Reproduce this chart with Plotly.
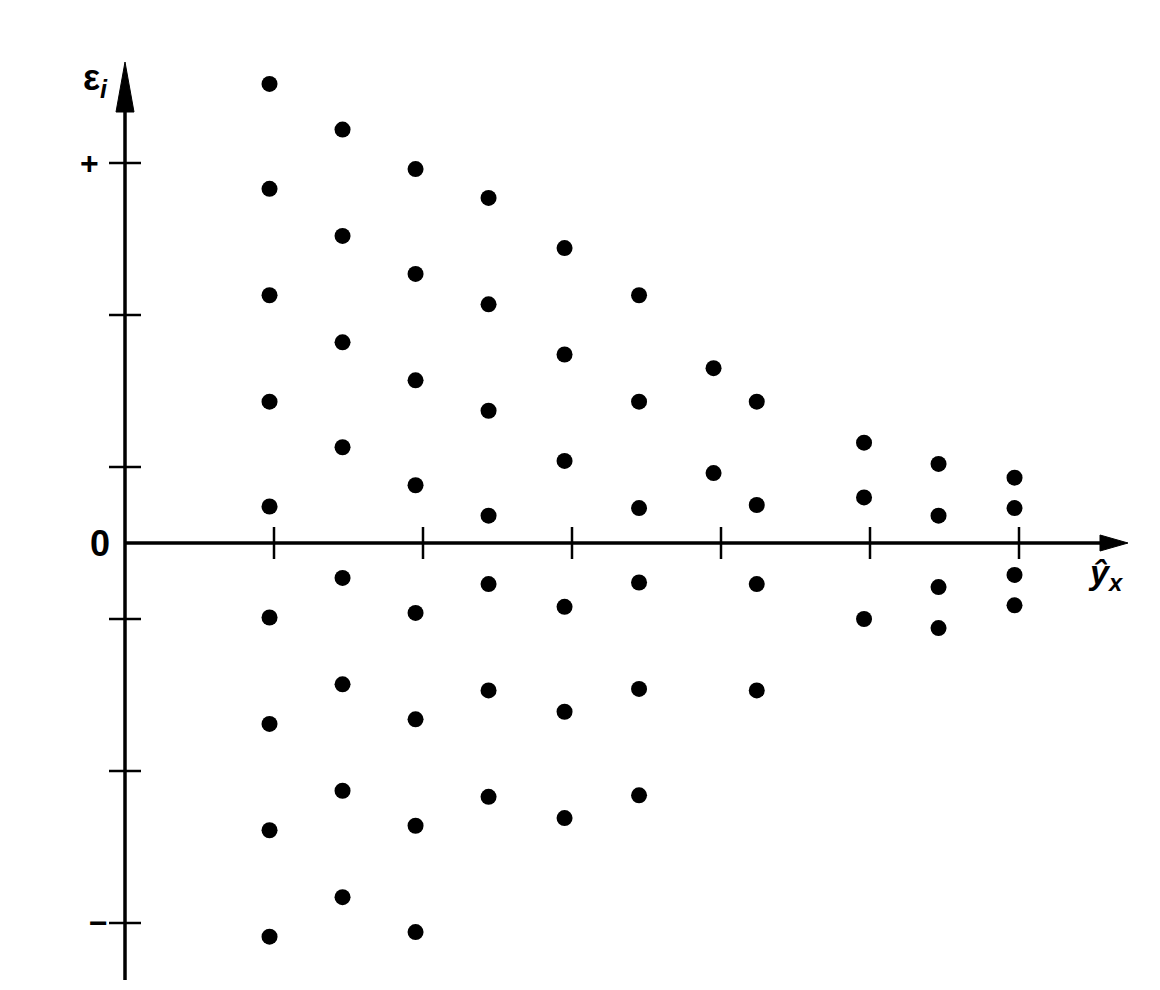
import plotly.graph_objects as go

# Residual data (x in units of x-axis ticks, y in units where axis ticks sit at +-0.5, 1.5, 2.5)
col_x = [0.97, 1.46, 1.95, 2.44, 2.95, 3.45, 3.95, 4.24, 4.96, 5.46, 5.97]
col_y = [
    [3.02, 2.33, 1.63, 0.93, 0.24, -0.49, -1.19, -1.89, -2.59],
    [2.72, 2.02, 1.32, 0.63, -0.23, -0.93, -1.63, -2.33],
    [2.46, 1.77, 1.07, 0.38, -0.46, -1.16, -1.86, -2.56],
    [2.27, 1.57, 0.87, 0.18, -0.27, -0.97, -1.67],
    [1.94, 1.24, 0.54, -0.42, -1.11, -1.81],
    [1.63, 0.93, 0.23, -0.26, -0.96, -1.66],
    [1.15, 0.46],
    [0.93, 0.25, -0.27, -0.97],
    [0.66, 0.30, -0.50],
    [0.52, 0.18, -0.29, -0.56],
    [0.43, 0.23, -0.21, -0.41],
]
x_ticks = [1, 2, 3, 4, 5, 6]
y_ticks = [2.5, 1.5, 0.5, -0.5, -1.5, -2.5]
y_tick_labels = {2.5: "+", 0: "0", -2.5: "\u2212"}
x_label = "<i>\u0177</i><sub><i>x</i></sub>"
y_label = "\u03b5<sub><i>i</i></sub>"

OFF = 8  # default page body margin
W, H = 1150, 980
PX_X, PX_Y = 149.0, 152.0  # pixels per unit
X0_PX, Y0_PX = 125.0 - OFF, 543.0 - OFF

xr = [-X0_PX / PX_X, (W - X0_PX) / PX_X]
yr = [-(H - Y0_PX) / PX_Y, Y0_PX / PX_Y]


def px_x(p):
    return (p - OFF - X0_PX) / PX_X


def px_y(p):
    return (Y0_PX - (p - OFF)) / PX_Y


xs, ys = [], []
for cx, yl in zip(col_x, col_y):
    for v in yl:
        xs.append(cx)
        ys.append(v)

fig = go.Figure()
fig.add_trace(go.Scatter(x=xs, y=ys, mode="markers",
                         marker=dict(size=16, color="black"), hoverinfo="skip",
                         showlegend=False))

shapes = []
lw = 3.5
y_bottom = px_y(980)
y_arrow_base = px_y(112)
y_arrow_tip = px_y(62)
x_arrow_base = px_x(1100)
x_arrow_tip = px_x(1128)
shapes.append(dict(type="line", x0=0, x1=0, y0=y_bottom, y1=y_arrow_base,
                   line=dict(color="black", width=lw)))
shapes.append(dict(type="line", x0=0, x1=x_arrow_base, y0=0, y1=0,
                   line=dict(color="black", width=lw)))
hw = 9 / PX_X
shapes.append(dict(type="path",
                   path=f"M {-hw} {y_arrow_base} L 0 {y_arrow_tip} L {hw} {y_arrow_base} Z",
                   fillcolor="black", line=dict(color="black", width=1)))
hh = 8 / PX_Y
shapes.append(dict(type="path",
                   path=f"M {x_arrow_base} {-hh} L {x_arrow_tip} 0 L {x_arrow_base} {hh} Z",
                   fillcolor="black", line=dict(color="black", width=1)))
tx = 16 / PX_X
ty = 16 / PX_Y
for t in y_ticks:
    shapes.append(dict(type="line", x0=-tx, x1=tx, y0=t, y1=t,
                       line=dict(color="black", width=2.5)))
for t in x_ticks:
    shapes.append(dict(type="line", x0=t, x1=t, y0=-ty, y1=ty,
                       line=dict(color="black", width=2.5)))

annotations = []
fnt = "Liberation Sans, Arial, sans-serif"
label_x = {"+": 89, "0": 100, "\u2212": 98}
for v, txt in y_tick_labels.items():
    size = 36 if txt == "0" else 32
    annotations.append(dict(x=px_x(label_x[txt]), y=v, text=f"<b>{txt}</b>", showarrow=False,
                            xanchor="center", yanchor="middle",
                            font=dict(family=fnt, size=size, color="black")))
annotations.append(dict(x=px_x(95), y=px_y(80), text=f"<b>{y_label}</b>",
                        showarrow=False, xanchor="center", yanchor="middle",
                        font=dict(family=fnt, size=36, color="black")))
annotations.append(dict(x=px_x(1106), y=px_y(574),
                        text=f"<b>{x_label}</b>",
                        showarrow=False, xanchor="center", yanchor="middle",
                        font=dict(family=fnt, size=34, color="black")))

fig.update_layout(
    width=W, height=H,
    margin=dict(l=0, r=0, t=0, b=0),
    paper_bgcolor="white", plot_bgcolor="white",
    xaxis=dict(range=xr, visible=False, fixedrange=True),
    yaxis=dict(range=yr, visible=False, fixedrange=True),
    shapes=shapes, annotations=annotations,
)
fig.write_html("out.html")
